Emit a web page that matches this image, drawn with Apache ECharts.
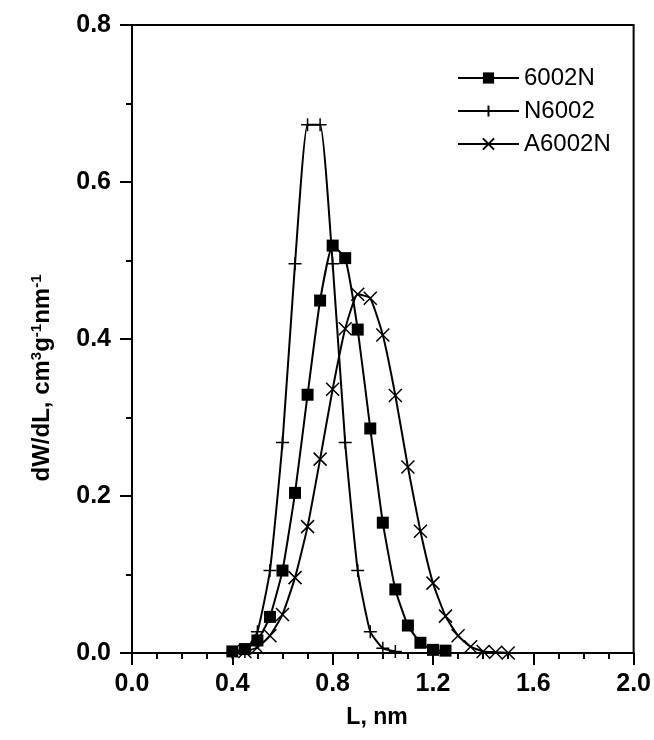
<!DOCTYPE html>
<html><head><meta charset="utf-8">
<script src="https://cdn.jsdelivr.net/npm/echarts@6/dist/echarts.min.js"></script>
<style>html,body{margin:0;padding:0;background:#fff}#c{width:654px;height:740px}</style>
</head><body><div id="c"></div>
<script>
// 6002N (filled squares)
var x6002N = [0.40,0.45,0.50,0.55,0.60,0.65,0.70,0.75,0.80,0.85,0.90,0.95,1.00,1.05,1.10,1.15,1.20,1.25];
var y6002N = [0.002,0.005,0.016,0.046,0.105,0.204,0.329,0.449,0.519,0.503,0.412,0.286,0.166,0.081,0.035,0.013,0.004,0.003];
// N6002 (plus)
var xN6002 = [0.40,0.45,0.50,0.55,0.60,0.65,0.70,0.75,0.80,0.85,0.90,0.95,1.00,1.05];
var yN6002 = [0.0005,0.002,0.027,0.105,0.268,0.496,0.673,0.673,0.496,0.268,0.105,0.027,0.006,0.002];
// A6002N (cross)
var xA6002N = [0.45,0.50,0.55,0.60,0.65,0.70,0.75,0.80,0.85,0.90,0.95,1.00,1.05,1.10,1.15,1.20,1.25,1.30,1.35,1.40,1.45,1.50];
var yA6002N = [0.002,0.007,0.022,0.049,0.096,0.161,0.247,0.336,0.413,0.457,0.452,0.405,0.328,0.237,0.155,0.089,0.047,0.022,0.008,0.002,0.001,0.000];
var seriesNames = ['6002N','N6002','A6002N'];
var xTitle = 'L, nm';
var yTitle = 'dW/dL, cm{s|3}g{s|-1}nm{s|-1}';

function pairs(xs, ys){ return xs.map(function(x,i){ return [x, ys[i]]; }); }
var plusPath = 'path://M0,6L12,6M6,0L6,12';
var crossPath = 'path://M0,0L12,12M12,0L0,12';
var font = 'Liberation Sans, Arial, sans-serif';

var chart = echarts.init(document.getElementById('c'));
chart.setOption({
  animation: false,
  backgroundColor: '#fff',
  grid: {left: 132, right: 20, top: 25, bottom: 87, show: true, borderColor: '#000', borderWidth: 2},
  legend: {
    orient: 'vertical', left: 452, top: 61, itemWidth: 61, itemHeight: 14, itemGap: 9,
    textStyle: {fontFamily: font, fontSize: 24, lineHeight: 24, color: '#000'},
    data: seriesNames
  },
  graphic: [
    {type: 'text', x: 42, y: 378, rotation: Math.PI / 2,
     style: {text: yTitle, fill: '#000', font: 'bold 24px ' + font, align: 'center', verticalAlign: 'middle',
       rich: {s: {fill: '#000', font: 'bold 15px ' + font, verticalAlign: 'top', padding: [0,0,11,0]}}}},
    {type: 'text', x: 377, y: 718,
     style: {text: xTitle, fill: '#000', font: 'bold 23px ' + font, align: 'center', verticalAlign: 'middle'}}
  ],
  xAxis: {
    type: 'value', min: 0, max: 2, interval: 0.4,
    axisLine: {lineStyle: {color: '#000', width: 2}},
    axisTick: {inside: false, length: 12, lineStyle: {color: '#000', width: 2}},
    minorTick: {show: true, splitNumber: 4, length: 6, lineStyle: {color: '#000', width: 2}},
    splitLine: {show: false},
    axisLabel: {formatter: function(v){ return v.toFixed(1); }, fontFamily: font, fontSize: 25, fontWeight: 'bold', color: '#000', margin: 19}
  },
  yAxis: {
    type: 'value', min: 0, max: 0.8, interval: 0.2,
    axisLine: {lineStyle: {color: '#000', width: 2}},
    axisTick: {inside: false, length: 12, lineStyle: {color: '#000', width: 2}},
    minorTick: {show: true, splitNumber: 2, length: 6, lineStyle: {color: '#000', width: 2}},
    splitLine: {show: false},
    axisLabel: {formatter: function(v){ return v.toFixed(1); }, fontFamily: font, fontSize: 25, fontWeight: 'bold', color: '#000', margin: 21}
  },
  series: [
    {name: seriesNames[0], type: 'line', data: pairs(x6002N, y6002N), symbol: 'rect', symbolSize: 12,
     lineStyle: {color: '#000', width: 2}, itemStyle: {color: '#000'}, smooth: 0.15},
    {name: seriesNames[1], type: 'line', data: pairs(xN6002, yN6002), symbol: plusPath, symbolSize: 13,
     lineStyle: {color: '#000', width: 2}, itemStyle: {color: '#000', borderColor: '#000', borderWidth: 1.5}, smooth: 0.15},
    {name: seriesNames[2], type: 'line', data: pairs(xA6002N, yA6002N), symbol: crossPath, symbolSize: 13,
     lineStyle: {color: '#000', width: 2}, itemStyle: {color: '#000', borderColor: '#000', borderWidth: 1.5}, smooth: 0.15}
  ]
});
</script></body></html>
